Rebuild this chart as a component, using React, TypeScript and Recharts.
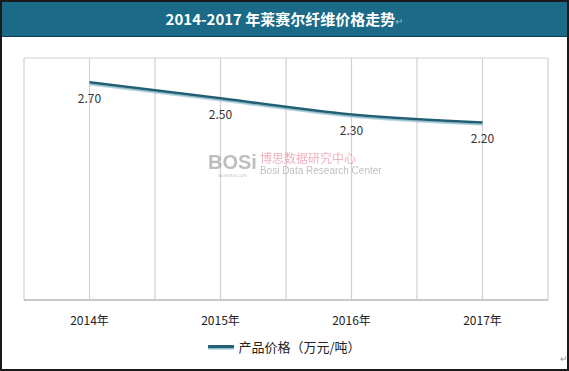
import React from 'react';
import {
  LineChart,
  Line,
  XAxis,
  YAxis,
  CartesianGrid,
  LabelList,
} from 'recharts';

const years = ['2014年', '2015年', '2016年', '2017年'];
const prices = [2.7, 2.5, 2.3, 2.2];
const yTicks = [0, 3];
const gridTicks = [-0.5, 0, 0.5, 1, 1.5, 2, 2.5, 3, 3.5];
const seriesName = '产品价格（万元/吨）';
const title = '2014-2017 年莱赛尔纤维价格走势';

const data = years.map((y, i) => ({ idx: i, year: y, price: prices[i] }));

const font = '"Noto Sans CJK SC", "Noto Sans", sans-serif';

const LegendBox = () => (
  <div
    style={{
      position: 'absolute',
      left: 0,
      top: 337,
      width: 569,
      display: 'flex',
      justifyContent: 'center',
      alignItems: 'center',
      fontSize: 13,
      color: '#222',
      fontFamily: font,
    }}
  >
    <svg width={26} height={8} style={{ marginRight: 4 }}>
      <line x1={1} y1={5} x2={25} y2={5} stroke="#8fbccb" strokeWidth={3} strokeLinecap="round" />
      <line x1={1} y1={3.5} x2={25} y2={3.5} stroke="#235f75" strokeWidth={3} strokeLinecap="round" />
    </svg>
    <span>{seriesName}</span>
  </div>
);

const App = () => {
  return (
    <div
      style={{
        position: 'absolute',
        left: 0,
        top: 0,
        width: 569,
        height: 371,
        background: '#fff',
        fontFamily: font,
      }}
    >
      <LineChart
        width={569}
        height={371}
        data={data}
        margin={{ top: 58, right: 21, bottom: 41, left: 24 }}
      >
        <defs>
          <filter id="lineShadow" x="-5%" y="-50%" width="110%" height="200%">
            <feDropShadow dx={0} dy={1.6} stdDeviation={0.5} floodColor="#8fbccb" floodOpacity={1} />
          </filter>
        </defs>
        <CartesianGrid xAxisId="grid" stroke="#d0d0d0" strokeWidth={1.2} />
        <XAxis
          xAxisId="grid"
          type="number"
          dataKey="idx"
          domain={[-0.5, 3.5]}
          ticks={gridTicks}
          hide
        />
        <XAxis
          xAxisId="cat"
          type="number"
          dataKey="idx"
          domain={[-0.5, 3.5]}
          ticks={[0, 1, 2, 3]}
          tickFormatter={(i: number) => years[i]}
          axisLine={{ stroke: '#bfbfbf', strokeWidth: 1.5 }}
          tickLine={false}
          tickMargin={10}
          tick={{ fill: '#222', fontSize: 12, fontFamily: font }}
          interval={0}
        />
        <YAxis domain={[0, 3]} ticks={yTicks} hide />
        <Line
          xAxisId="cat"
          type="monotone"
          dataKey="price"
          name={seriesName}
          stroke="#235f75"
          strokeWidth={2.6}
          dot={false}
          activeDot={false}
          filter="url(#lineShadow)"
          isAnimationActive={false}
        >
          <LabelList
            dataKey="price"
            position="bottom"
            offset={12}
            formatter={(v: number) => v.toFixed(2)}
            style={{ fill: '#333', fontSize: 12, fontFamily: font }}
          />
        </Line>
      </LineChart>

      <LegendBox />

      <div
        style={{
          position: 'absolute',
          left: 0,
          top: 0,
          width: 569,
          height: 37,
          background: '#1b6a87',
          borderBottom: '1px solid #0e3f52',
          color: '#fff',
          fontWeight: 'bold',
          fontSize: 15,
          lineHeight: '37px',
          textAlign: 'center',
          boxSizing: 'border-box',
        }}
      >
        {title}
        <span style={{ color: '#9cb8c4', fontWeight: 'normal', fontSize: 10 }}>↵</span>
      </div>

      <div
        style={{
          position: 'absolute',
          left: 208,
          top: 151,
          display: 'flex',
          alignItems: 'flex-start',
          opacity: 0.55,
          pointerEvents: 'none',
        }}
      >
        <div style={{ textAlign: 'center', marginRight: 3 }}>
          <div
            style={{
              fontFamily: '"Liberation Sans", sans-serif',
              fontWeight: 'bold',
              fontSize: 20,
              lineHeight: '22px',
              color: '#8a8a8a',
            }}
          >
            BOSi
          </div>
          <div style={{ fontSize: 4, lineHeight: '5px', color: '#888' }}>BOSIDATA.COM</div>
        </div>
        <div>
          <div style={{ fontSize: 12, lineHeight: '14px', color: '#e0708a' }}>博思数据研究中心</div>
          <div
            style={{
              fontSize: 10,
              lineHeight: '12px',
              color: '#8a8a8a',
              fontFamily: '"Liberation Sans Narrow", "Liberation Sans", sans-serif',
            }}
          >
            Bosi Data Research Center
          </div>
        </div>
      </div>

      <div
        style={{
          position: 'absolute',
          left: 0,
          top: 0,
          width: 569,
          height: 371,
          border: '2px solid #1a1a1a',
          boxSizing: 'border-box',
          pointerEvents: 'none',
        }}
      />
      <div style={{ position: 'absolute', left: 560, top: 352, fontSize: 9, color: '#999' }}>↵</div>
    </div>
  );
};

export default App;
